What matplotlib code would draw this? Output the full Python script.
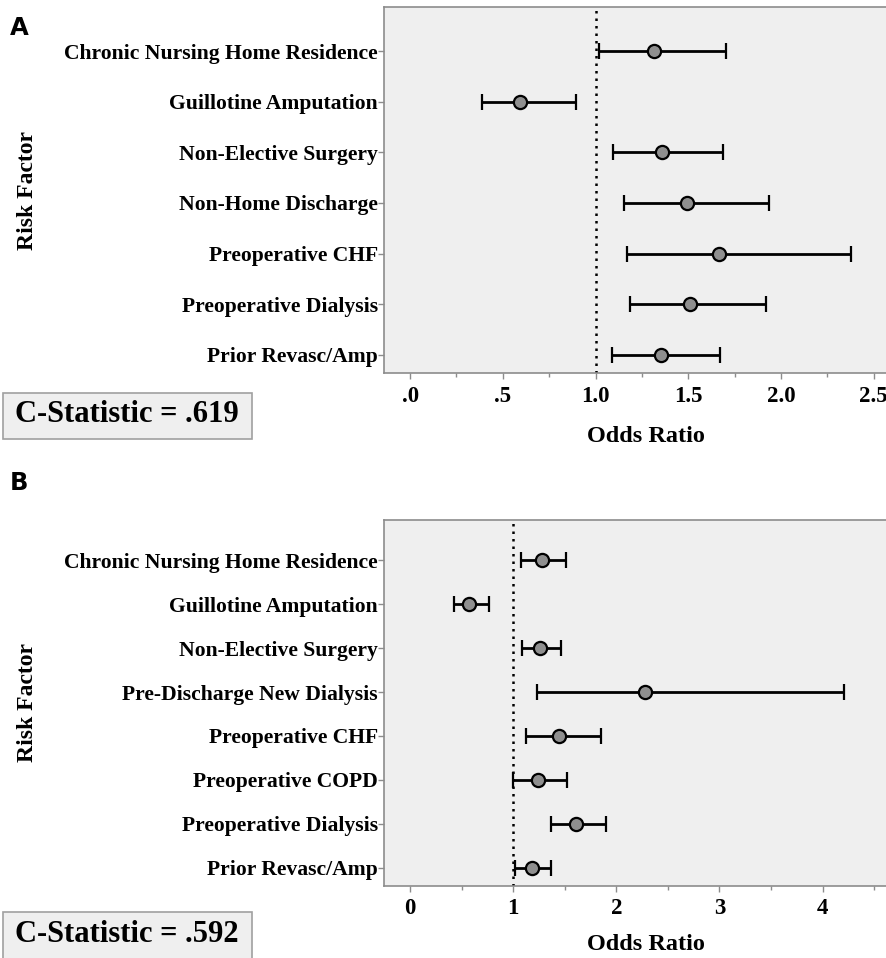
import numpy as np
import matplotlib
matplotlib.use('Agg')
import matplotlib.pyplot as plt
from matplotlib.patches import Rectangle
from matplotlib.ticker import FixedLocator, MultipleLocator

plt.rcParams['font.family'] = ['Liberation Serif', 'DejaVu Serif']

# ── Data ──────────────────────────────────────────────────────────────────────
factors_a = ['Chronic Nursing Home Residence', 'Guillotine Amputation',
             'Non-Elective Surgery', 'Non-Home Discharge', 'Preoperative CHF',
             'Preoperative Dialysis', 'Prior Revasc/Amp']
or_a = [1.317, 0.590, 1.360, 1.494, 1.666, 1.510, 1.353]
lo_a = [1.016, 0.385, 1.094, 1.152, 1.167, 1.187, 1.091]
hi_a = [1.702, 0.892, 1.689, 1.933, 2.378, 1.917, 1.669]
ticks_a = [0.0, 0.5, 1.0, 1.5, 2.0, 2.5]
ticklabels_a = ['.0', '.5', '1.0', '1.5', '2.0', '2.5']

factors_b = ['Chronic Nursing Home Residence', 'Guillotine Amputation',
             'Non-Elective Surgery', 'Pre-Discharge New Dialysis',
             'Preoperative CHF', 'Preoperative COPD', 'Preoperative Dialysis',
             'Prior Revasc/Amp']
or_b = [1.278, 0.572, 1.259, 2.276, 1.444, 1.239, 1.613, 1.178]
lo_b = [1.070, 0.426, 1.086, 1.226, 1.122, 1.002, 1.369, 1.012]
hi_b = [1.515, 0.764, 1.460, 4.205, 1.854, 1.519, 1.900, 1.366]
ticks_b = [0, 1, 2, 3, 4]
ticklabels_b = ['0', '1', '2', '3', '4']

cstat_a = 'C-Statistic = .619'
cstat_b = 'C-Statistic = .592'

W, H = 887, 958
BG = '#efefef'
SPINE = '#8c8c8c'

fig = plt.figure(figsize=(W / 100, H / 100), dpi=100)


def px_box(x0, y0, x1, y1):
    """pixel box (top-left origin) -> figure fraction [l, b, w, h]"""
    return [x0 / W, 1 - y1 / H, (x1 - x0) / W, (y1 - y0) / H]


def forest(ax, factors, ors, los, his, xlim, ylim, ticks, labels, minor):
    y = np.arange(len(factors))
    ors = np.array(ors); los = np.array(los); his = np.array(his)
    ax.set_facecolor(BG)
    ax.axvline(1.0, color='black', linestyle=(0, (1, 2)), lw=1.8, zorder=1)
    ax.errorbar(ors, y, xerr=[ors - los, his - ors], fmt='o', color='black',
                ecolor='black', elinewidth=2.0, capsize=5.5, capthick=2.0,
                markersize=9.5, markerfacecolor='#8f8f8f',
                markeredgecolor='black', markeredgewidth=1.6, zorder=3)
    ax.set_xlim(*xlim)
    ax.set_ylim(*ylim)
    ax.set_yticks(y)
    ax.set_yticklabels(factors, fontsize=15.6, fontweight='bold')
    ax.xaxis.set_major_locator(FixedLocator(ticks))
    ax.set_xticklabels(labels, fontsize=16.5, fontweight='bold')
    ax.xaxis.set_minor_locator(MultipleLocator(minor))
    ax.tick_params(axis='both', which='major', color=SPINE, length=4, width=1)
    ax.tick_params(axis='x', which='minor', color=SPINE, length=3, width=1)
    ax.tick_params(axis='x', pad=5)
    ax.tick_params(axis='y', pad=0.5)
    for s in ['left', 'top', 'bottom']:
        ax.spines[s].set_color(SPINE)
        ax.spines[s].set_linewidth(1.2)
    ax.spines['right'].set_visible(False)


# Panel A
ax_a = fig.add_axes(px_box(384, 7, 890, 373))
forest(ax_a, factors_a, or_a, lo_a, hi_a,
       xlim=(-0.141, 2.588), ylim=(6.36, -0.87),
       ticks=ticks_a, labels=ticklabels_a, minor=0.25)

# Panel B
ax_b = fig.add_axes(px_box(384, 520, 890, 886))
forest(ax_b, factors_b, or_b, lo_b, hi_b,
       xlim=(-0.254, 4.654), ylim=(7.42, -0.92),
       ticks=ticks_b, labels=ticklabels_b, minor=0.5)

# Axis titles
fig.text(646 / W, 1 - 437 / H, 'Odds Ratio', ha='center', va='center',
         fontsize=17.5, fontweight='bold')
fig.text(646 / W, 1 - 944 / H, 'Odds Ratio', ha='center', va='center',
         fontsize=17.5, fontweight='bold')
fig.text(28 / W, 1 - 190 / H, 'Risk Factor', ha='center', va='center',
         rotation=90, fontsize=17, fontweight='bold')
fig.text(28 / W, 1 - 703 / H, 'Risk Factor', ha='center', va='center',
         rotation=90, fontsize=17, fontweight='bold')

# Panel letters
fig.text(10 / W, 1 - 28 / H, 'A', ha='left', va='center', fontsize=17.5,
         fontweight='bold', family='DejaVu Sans')
fig.text(10 / W, 1 - 483 / H, 'B', ha='left', va='center', fontsize=17.5,
         fontweight='bold', family='DejaVu Sans')

# C-statistic boxes
for (y0, y1, ty, txt) in [(393, 439, 415, cstat_a), (912, 962, 935, cstat_b)]:
    l, b, w, h = px_box(3, y0, 252, y1)
    fig.patches.append(Rectangle((l, b), w, h, transform=fig.transFigure,
                                 facecolor=BG, edgecolor='#a0a0a0', lw=1.2))
    fig.text(127 / W, 1 - ty / H, txt, ha='center', va='center', fontsize=22,
             fontweight='bold')

fig.savefig('out.png', dpi=100)
